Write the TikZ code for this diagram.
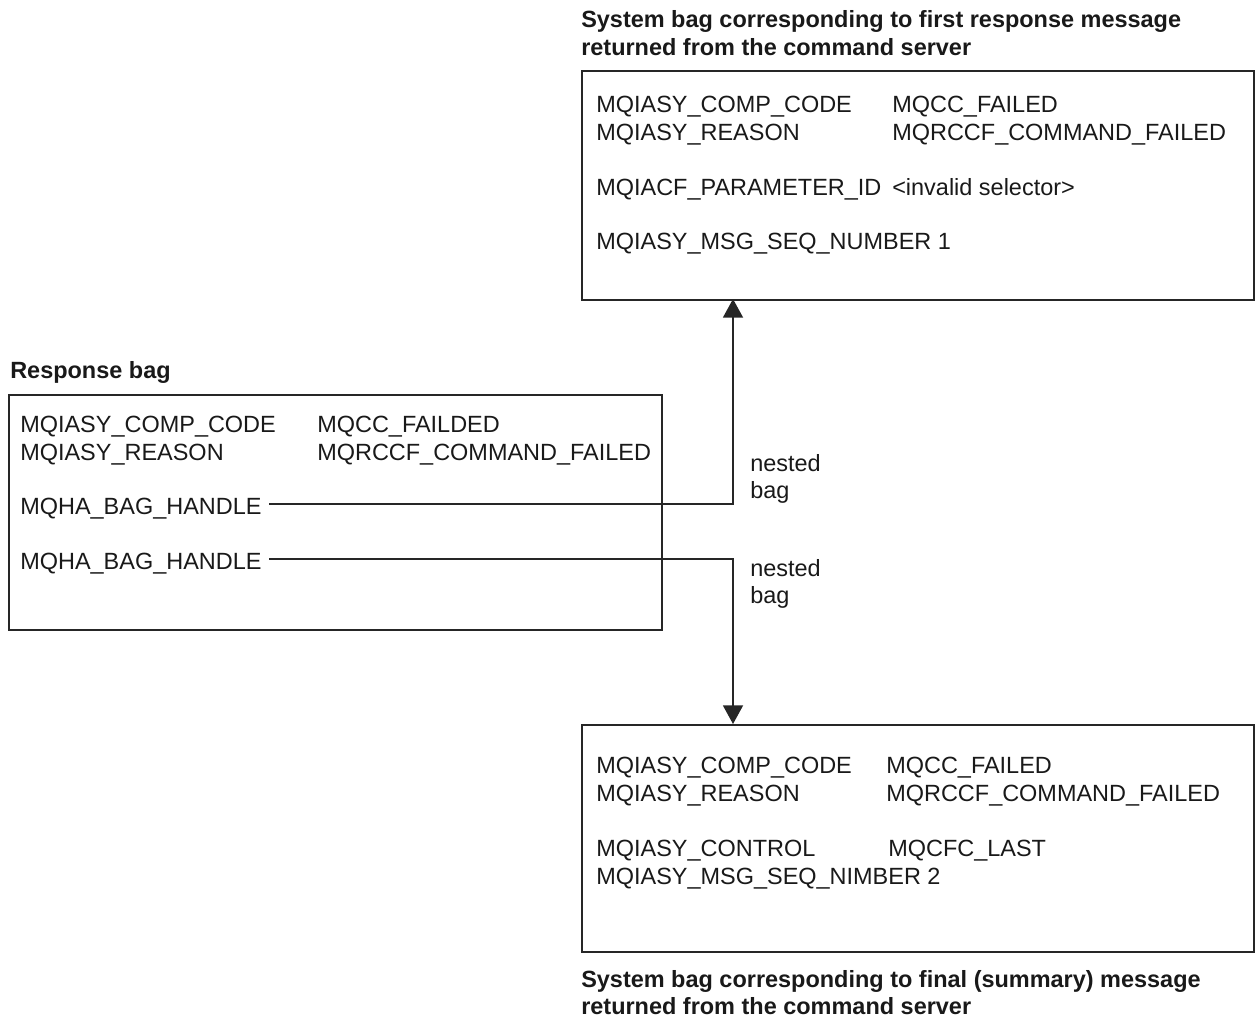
\documentclass[tikz,border=0pt]{standalone}
\usepackage{fontspec}
\setmainfont{Liberation Sans}
\usetikzlibrary{arrows.meta}
\begin{document}
\begin{tikzpicture}[x=0.75pt,y=-0.75pt,
  txt/.style={anchor=base west,inner sep=0pt,font=\fontsize{17.6pt}{20pt}\selectfont,text=black!90},
  captxt/.style={anchor=base west,inner sep=0pt,font=\fontsize{17.6pt}{20pt}\selectfont\bfseries,text=black!90},
  box/.style={draw=black!85,line width=1.3pt,anchor=north west,inner sep=0pt},
  conn/.style={draw=black!85,line width=1.3pt},
  arr/.style={conn,-{Triangle[length=14pt,width=15pt]}}]
\useasboundingbox (0,0) rectangle (1259,1021);
% top box
\node[box,minimum width=504pt,minimum height=171.75pt] (tbox) at (581,70) {};
\node[captxt] (tc1) at (581,27) {System bag corresponding to first response message};
\node[captxt] (tc2) at (581,55) {returned from the command server};
\node[txt] (t1a) at (596,112) {MQIASY\_COMP\_CODE};
\node[txt] (t1b) at (892,112) {MQCC\_FAILED};
\node[txt] (t2a) at (596,140) {MQIASY\_REASON};
\node[txt] (t2b) at (892,140) {MQRCCF\_COMMAND\_FAILED};
\node[txt] (t3a) at (596,195) {MQIACF\_PARAMETER\_ID};
\node[txt] (t3b) at (892,195) {<invalid selector>};
\node[txt] (t4a) at (596,249) {MQIASY\_MSG\_SEQ\_NUMBER 1};
% left box
\node[box,minimum width=489.75pt,minimum height=176.25pt] (lbox) at (8,394) {};
\node[captxt] (lc) at (10,378) {Response bag};
\node[txt] (l1a) at (20,432) {MQIASY\_COMP\_CODE};
\node[txt] (l1b) at (317,432) {MQCC\_FAILDED};
\node[txt] (l2a) at (20,460) {MQIASY\_REASON};
\node[txt] (l2b) at (317,460) {MQRCCF\_COMMAND\_FAILED};
\node[txt] (h1) at (20,514) {MQHA\_BAG\_HANDLE};
\node[txt] (h2) at (20,569) {MQHA\_BAG\_HANDLE};
% bottom box
\node[box,minimum width=504pt,minimum height=170.25pt] (bbox) at (581,724) {};
\node[txt] (b1a) at (596,773) {MQIASY\_COMP\_CODE};
\node[txt] (b1b) at (886,773) {MQCC\_FAILED};
\node[txt] (b2a) at (596,801) {MQIASY\_REASON};
\node[txt] (b2b) at (886,801) {MQRCCF\_COMMAND\_FAILED};
\node[txt] (b3a) at (596,856) {MQIASY\_CONTROL};
\node[txt] (b3b) at (888,856) {MQCFC\_LAST};
\node[txt] (b4a) at (596,884) {MQIASY\_MSG\_SEQ\_NIMBER 2};
\node[captxt] (bc1) at (581,987) {System bag corresponding to final (summary) message};
\node[captxt] (bc2) at (581,1014) {returned from the command server};
% nested bag labels
\node[txt] (n1a) at (750,471) {nested};
\node[txt] (n1b) at (750,498) {bag};
\node[txt] (n2a) at (750,576) {nested};
\node[txt] (n2b) at (750,603) {bag};
% connectors
\coordinate (s1) at (269,504);
\coordinate (s2) at (269,559);
\coordinate (e1) at (733,299);
\coordinate (e2) at (733,724);
\draw[arr] (s1) -| (e1);
\draw[arr] (s2) -| (e2);
\end{tikzpicture}
\end{document}
